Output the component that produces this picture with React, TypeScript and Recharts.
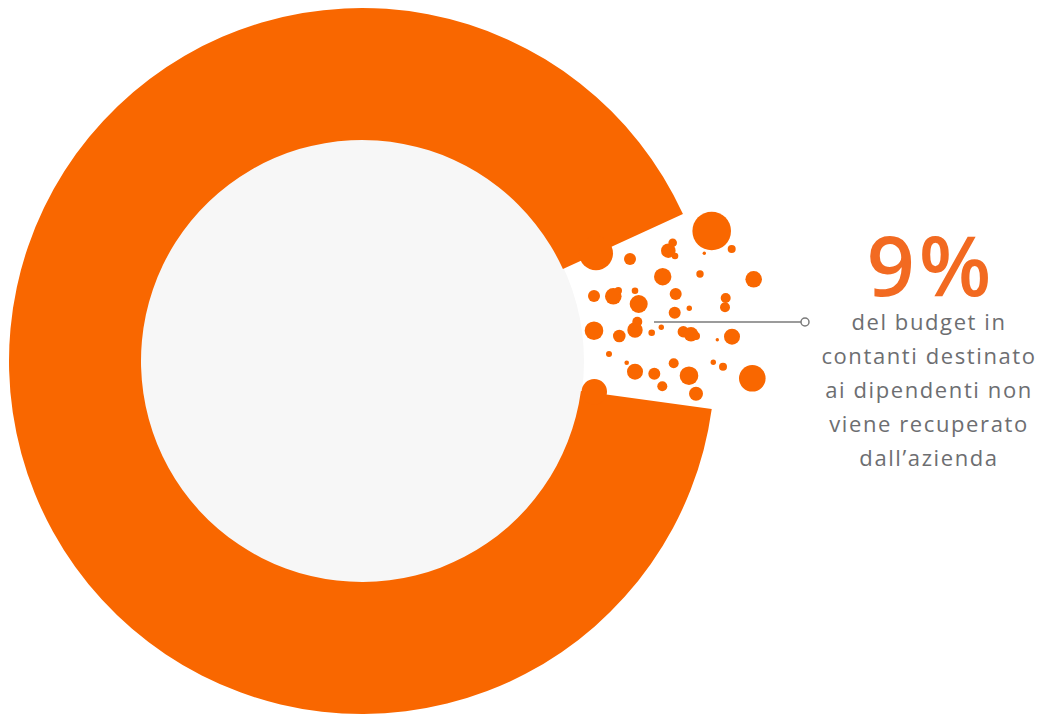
import React from "react";
import {
  PieChart,
  Pie,
  Cell,
  ScatterChart,
  Scatter,
  XAxis,
  YAxis,
  ReferenceLine,
  ReferenceDot,
} from "recharts";

// share of the cash budget
const shares = [
  { name: "recuperato", value: 91 },
  { name: "non recuperato", value: 9 },
];

// scattered "crumbs" falling out of the gap (x, y in px of the 1047x715 frame, r radius)
const crumbs = [
  { x: 711.7, y: 231, r: 19.3 },
  { x: 731.7, y: 249, r: 4 },
  { x: 704.3, y: 253.3, r: 1.7 },
  { x: 668.3, y: 250.7, r: 7.3 },
  { x: 672.7, y: 242.7, r: 4.3 },
  { x: 675, y: 256, r: 3.3 },
  { x: 630, y: 259, r: 6 },
  { x: 596, y: 253.3, r: 17 },
  { x: 662.7, y: 276.7, r: 8.7 },
  { x: 700, y: 274, r: 3.7 },
  { x: 753.7, y: 279.3, r: 8.3 },
  { x: 594, y: 296, r: 6 },
  { x: 613.3, y: 296.3, r: 8.3 },
  { x: 618.3, y: 290.7, r: 3.7 },
  { x: 635, y: 290.7, r: 3.3 },
  { x: 638.7, y: 304, r: 9 },
  { x: 675.7, y: 294, r: 6 },
  { x: 725.7, y: 298, r: 5 },
  { x: 725, y: 307.3, r: 5 },
  { x: 689.3, y: 308.3, r: 2.7 },
  { x: 674.7, y: 312.7, r: 6 },
  { x: 594, y: 330.7, r: 9.3 },
  { x: 619.3, y: 336, r: 6.3 },
  { x: 635, y: 330, r: 7.7 },
  { x: 637.3, y: 321.7, r: 5 },
  { x: 651.7, y: 332.7, r: 3.3 },
  { x: 661.3, y: 327.3, r: 2.7 },
  { x: 683.3, y: 331.7, r: 5.7 },
  { x: 691, y: 334.3, r: 7.3 },
  { x: 696, y: 336, r: 4 },
  { x: 717.3, y: 339.7, r: 1.7 },
  { x: 732, y: 336.7, r: 8 },
  { x: 609, y: 354, r: 3 },
  { x: 626.7, y: 362.7, r: 2.3 },
  { x: 635, y: 371.7, r: 8 },
  { x: 654.3, y: 373.7, r: 6 },
  { x: 673.7, y: 363.3, r: 5 },
  { x: 662.3, y: 386.3, r: 5 },
  { x: 689, y: 375.7, r: 9.3 },
  { x: 713.3, y: 362.3, r: 2.7 },
  { x: 723, y: 366.7, r: 4 },
  { x: 752.3, y: 378.3, r: 13.3 },
  { x: 696, y: 393.7, r: 7 },
  { x: 594.3, y: 391.7, r: 12.7 },
];

const headline = "9%";
const captionLines = [
  "del budget in",
  "contanti destinato",
  "ai dipendenti non",
  "viene recuperato",
  "dall\u2019azienda",
];

const W = 1047;
const H = 715;
const ORANGE = "#F96700";
const GREY_TEXT = "#6D6E71";

const Crumb = (props: any) => {
  const { cx, cy, payload } = props;
  return <circle cx={cx} cy={cy} r={payload.r} fill={ORANGE} />;
};

export default function App() {
  return (
    <div
      style={{
        position: "absolute",
        left: 0,
        top: 0,
        width: W,
        height: H,
        background: "#fff",
        fontFamily: "'Open Sans', sans-serif",
      }}
    >
      <div style={{ position: "absolute", left: 0, top: 0 }}>
        <PieChart width={W} height={H} margin={{ top: 0, right: 0, bottom: 0, left: 0 }}>
          <Pie
            data={[{ value: 1 }]}
            dataKey="value"
            cx={362}
            cy={361}
            innerRadius={0}
            outerRadius={222}
            fill="#F7F7F7"
            stroke="none"
            isAnimationActive={false}
          />
          <Pie
            data={shares}
            dataKey="value"
            cx={362}
            cy={361}
            innerRadius={221}
            outerRadius={353}
            startAngle={24.6}
            endAngle={384.6}
            stroke="none"
            isAnimationActive={false}
          >
            <Cell fill={ORANGE} />
            <Cell fill="transparent" />
          </Pie>
        </PieChart>
      </div>
      <div style={{ position: "absolute", left: 0, top: 0 }}>
        <ScatterChart width={W} height={H} margin={{ top: 0, right: 0, bottom: 0, left: 0 }}>
          <XAxis type="number" dataKey="x" domain={[0, W]} hide />
          <YAxis type="number" dataKey="y" domain={[0, H]} reversed hide />
          <ReferenceLine
            segment={[
              { x: 654, y: 322 },
              { x: 801, y: 322 },
            ]}
            stroke="#7A7A7A"
            strokeWidth={1.5}
          />
          <ReferenceDot x={805} y={322} r={4} fill="#fff" stroke="#7A7A7A" strokeWidth={1.5} />
          <Scatter data={crumbs} shape={Crumb} isAnimationActive={false} />
        </ScatterChart>
      </div>
      <div
        style={{
          position: "absolute",
          left: 810,
          width: 238,
          top: 229,
          textAlign: "center",
          color: "#F26A21",
          fontSize: 84,
          lineHeight: "70px",
          fontWeight: 600,
          letterSpacing: 4,
          textIndent: 4,
        }}
      >
        {headline}
      </div>
      <div
        style={{
          position: "absolute",
          left: 810,
          width: 238,
          top: 304,
          textAlign: "center",
          color: GREY_TEXT,
          fontSize: 22,
          lineHeight: "34px",
          letterSpacing: 1.6,
        }}
      >
        {captionLines.map((l) => (
          <div key={l}>{l}</div>
        ))}
      </div>
    </div>
  );
}
